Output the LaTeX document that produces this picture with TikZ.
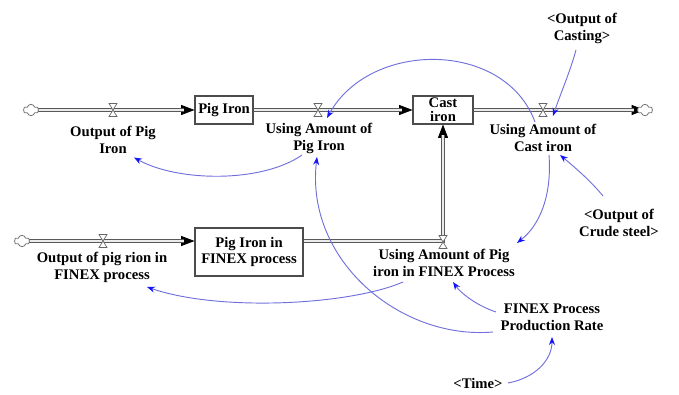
\documentclass[tikz,border=0pt]{standalone}
\usepackage{fontspec}
\setmainfont{Liberation Serif}
\usetikzlibrary{arrows.meta,shapes.symbols,calc}
\definecolor{linkblue}{RGB}{112,112,220}
\definecolor{tipblue}{RGB}{20,20,250}
\begin{document}
\begin{tikzpicture}[x=0.75pt,y=-0.75pt,
  lbl/.style={font=\bfseries\fontsize{11}{12.8}\selectfont, align=center, inner sep=0pt},
  stock/.style={draw=black!70, line width=0.8pt, fill=white, inner sep=0pt,
    font=\bfseries\fontsize{11}{12.3}\selectfont, align=center},
  cloudnode/.style={cloud, cloud puffs=6, draw=black!55, line width=0.6pt, fill=white,
    minimum width=11.5pt, minimum height=8.5pt, inner sep=0pt, aspect=1.3},
  pipeout/.style={line width=3.2pt, draw=black!65, shorten >=8pt, line join=miter},
  pipein/.style={line width=1.5pt, draw=black!8, shorten >=8pt, line join=miter},
  pipetip/.style={line width=0.5pt, -{Triangle[length=10pt,width=7.5pt]}},
  link/.style={draw=linkblue, line width=0.7pt, -{Stealth[length=6pt,width=4.5pt,color=tipblue]}},
  valve/.pic={\filldraw[draw=black!60, fill=white, line width=0.5pt]
      (-4,-6.5) -- (4,-6.5) -- (-4,6.5) -- (4,6.5) -- cycle;
    \coordinate (-c) at (0,0);}
]
\useasboundingbox (0,0) rectangle (679,395);

% stocks and sources/sinks
\node[stock, minimum width=43.5pt, minimum height=21pt] (pig) at (224,110) {Pig Iron};
\node[stock, minimum width=45pt, minimum height=21pt] (cast) at (443,110) {Cast\\[-2pt]iron};
\node[stock, minimum width=81pt, minimum height=36pt] (fbox) at (249,252) {Pig Iron in\\FINEX process};
\coordinate (c1p) at (31,110);
\coordinate (c2p) at (22,241);
\coordinate (c3p) at (645,110);

% flow pipes
\draw[pipetip] (c1p) -- (pig.west);
\draw[pipeout] (c1p) -- (pig.west);
\draw[pipein] (c1p) -- (pig.west);

\draw[pipetip] (pig.east) -- (cast.west);
\draw[pipeout] (pig.east) -- (cast.west);
\draw[pipein] (pig.east) -- (cast.west);

\draw[pipetip] (cast.east) -- (c3p);
\draw[pipeout] (cast.east) -- (c3p);
\draw[pipein] (cast.east) -- (c3p);

\draw[pipetip] (c2p) -- (fbox.west |- c2p);
\draw[pipeout] (c2p) -- (fbox.west |- c2p);
\draw[pipein] (c2p) -- (fbox.west |- c2p);

\draw[pipetip] (fbox.east |- c2p) -- (cast.south |- c2p) -- (cast.south);
\draw[pipeout] (fbox.east |- c2p) -- (cast.south |- c2p) -- (cast.south);
\draw[pipein] (fbox.east |- c2p) -- (cast.south |- c2p) -- (cast.south);

\node[cloudnode] (c1) at (c1p) {};
\node[cloudnode] (c2) at (c2p) {};
\node[cloudnode] (c3) at (c3p) {};

% valves
\pic (v1) at (113,110) {valve};
\pic (v2) at (318,110) {valve};
\pic (v3) at (543,110) {valve};
\pic (v4) at (103,241) {valve};
\pic (v5) at (443,242) {valve};

% variable names
\node[lbl] (opi) at (113,139.5) {Output of Pig\\Iron};
\node[lbl] (upi) at (319,138) {Using Amount of\\Pig Iron};
\node[lbl] (uci) at (543,138) {Using Amount of\\Cast iron};
\node[lbl] (ocast) at (582,28) {<Output of\\Casting>};
\node[lbl] (ocrude) at (619,223) {<Output of\\Crude steel>};
\node[lbl] (opf) at (102,267) {Output of pig rion in\\FINEX process};
\node[lbl] (upf) at (444,263) {Using Amount of Pig\\iron in FINEX Process};
\node[lbl] (rate) at (552,317) {FINEX Process\\Production Rate};
\node[lbl] (time) at (478,383) {<Time>};

% causal links
\draw[link] ($(upi)+(-17,17)$) .. controls (262,183) and (178,182) .. ($(opi)+(21,18)$);
\draw[link] ($(uci)+(-8,-16)$) .. controls (505,40) and (370,40) .. ($(v2-c)+(9,8)$);
\draw[link] ($(uci)+(6,17)$) .. controls (552,195) and (540,225) .. ($(upf)+(73,-20)$);
\draw[link] ($(rate)+(-56,-5)$) .. controls (475,305) and (460,292) .. ($(upf)+(9,19)$);
\draw[link] ($(rate)+(-59,15)$) .. controls (400,340) and (305,260) .. ($(upi)+(-2,19)$);
\draw[link] ($(upf)+(-41,19)$) .. controls (350,305) and (220,312) .. ($(opf)+(45,20)$);
\draw[link] ($(time)+(30,0)$) .. controls (535,378) and (552,360) .. ($(rate)+(0,20)$);
\draw[link] ($(ocast)+(-6,22)$) .. controls (570,72) and (560,95) .. ($(v3-c)+(10,6)$);
\draw[link] ($(ocrude)+(-16,-27)$) .. controls (590,180) and (572,165) .. ($(uci)+(17,17)$);
\end{tikzpicture}
\end{document}
